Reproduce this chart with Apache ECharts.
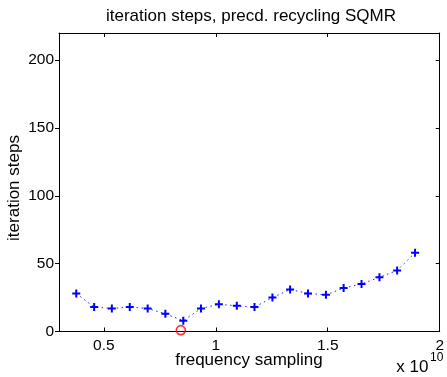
<!DOCTYPE html>
<html>
<head>
<meta charset="utf-8">
<script src="https://cdn.jsdelivr.net/npm/echarts@6/dist/echarts.min.js"></script>
<style>
html,body{margin:0;padding:0;background:#fff;}
#chart{width:447px;height:377px;}
</style>
</head>
<body>
<div id="chart"></div>
<script>
// frequency samples (units of 1e10)
var freqs = [0.377, 0.457, 0.536, 0.616, 0.696, 0.775, 0.855, 0.934, 1.014, 1.094,
             1.173, 1.253, 1.332, 1.412, 1.492, 1.571, 1.651, 1.731, 1.810, 1.890];
// iteration steps per sample
var steps = [28, 18, 17, 18, 17, 13, 8, 17, 20, 19,
             18, 25, 31, 28, 27, 32, 35, 40, 45, 58];
// highlighted point (red circle)
var markFreq = [0.844];
var markSteps = [1];
// tick labels
var xTicks = [0.5, 1, 1.5, 2];
var yTicks = [0, 50, 100, 150, 200];

var FONT = '"Liberation Sans", Arial, Helvetica, sans-serif';
var TICKFS = 15.5;

var chart = echarts.init(document.getElementById('chart'), null, {renderer: 'canvas'});

var lineData = freqs.map(function (f, i) { return [f, steps[i]]; });
var markData = markFreq.map(function (f, i) { return [f, markSteps[i]]; });

var plusPath = 'path://M3,0h2v3h3v2h-3v3h-2v-3h-3v-2h3z';

var option = {
  animation: false,
  backgroundColor: '#ffffff',
  grid: {left: 59, top: 33, width: 382, height: 298.5, containLabel: false},
  xAxis: [{
    type: 'value', min: 0.3, max: 2.0, position: 'bottom',
    axisLine: {show: true, onZero: false, lineStyle: {color: '#000', width: 1}},
    axisTick: {show: true, inside: true, length: 4, customValues: xTicks, lineStyle: {color: '#000'}},
    axisLabel: {show: true, customValues: xTicks, margin: 6, color: '#000', fontSize: TICKFS, fontFamily: FONT,
      formatter: function (v) { return String(v); }},
    splitLine: {show: false}
  }, {
    type: 'value', min: 0.3, max: 2.0, position: 'top',
    axisLine: {show: true, onZero: false, lineStyle: {color: '#000', width: 1}},
    axisTick: {show: true, inside: true, length: 4, customValues: xTicks, lineStyle: {color: '#000'}},
    axisLabel: {show: false},
    splitLine: {show: false}
  }],
  yAxis: [{
    type: 'value', min: 0, max: 220, position: 'left',
    axisLine: {show: true, onZero: false, lineStyle: {color: '#000', width: 1}},
    axisTick: {show: true, inside: false, length: 4, customValues: yTicks, lineStyle: {color: '#000'}},
    axisLabel: {show: true, customValues: yTicks, margin: 5, color: '#000', fontSize: TICKFS, fontFamily: FONT},
    splitLine: {show: false}
  }, {
    type: 'value', min: 0, max: 220, position: 'right',
    axisLine: {show: true, onZero: false, lineStyle: {color: '#000', width: 1}},
    axisTick: {show: true, inside: true, length: 4, customValues: yTicks, lineStyle: {color: '#000'}},
    axisLabel: {show: false},
    splitLine: {show: false}
  }],
  series: [{
    type: 'line',
    data: lineData,
    xAxisIndex: 0, yAxisIndex: 0,
    symbol: plusPath,
    symbolSize: 8,
    showAllSymbol: true,
    lineStyle: {color: '#2222ff', width: 1, type: [1.5, 3.5]},
    itemStyle: {color: '#0000ff'},
    clip: false
  }, {
    type: 'scatter',
    data: markData,
    xAxisIndex: 0, yAxisIndex: 0,
    symbol: 'circle',
    symbolSize: 9,
    itemStyle: {color: 'rgba(0,0,0,0)', borderColor: '#ff0000', borderWidth: 1.6},
    clip: false
  }],
  graphic: [
    {type: 'text', x: 251, y: 16, style: {text: 'iteration steps, precd. recycling SQMR', fontSize: 17, fontFamily: FONT, fill: '#000', textAlign: 'center', textVerticalAlign: 'middle'}},
    {type: 'text', x: 249, y: 360, style: {text: 'frequency sampling', fontSize: 17, fontFamily: FONT, fill: '#000', textAlign: 'center', textVerticalAlign: 'middle'}},
    {type: 'text', x: 14, y: 188, rotation: Math.PI / 2, style: {text: 'iteration steps', fontSize: 17, fontFamily: FONT, fill: '#000', textAlign: 'center', textVerticalAlign: 'middle'}},
    {type: 'text', x: 428.5, y: 367, style: {text: 'x 10', fontSize: 17, fontFamily: FONT, fill: '#000', textAlign: 'right', textVerticalAlign: 'middle'}},
    {type: 'text', x: 430, y: 358, style: {text: '10', fontSize: 12, fontFamily: FONT, fill: '#000', textAlign: 'left', textVerticalAlign: 'middle'}}
  ]
};
chart.setOption(option);
</script>
</body>
</html>
